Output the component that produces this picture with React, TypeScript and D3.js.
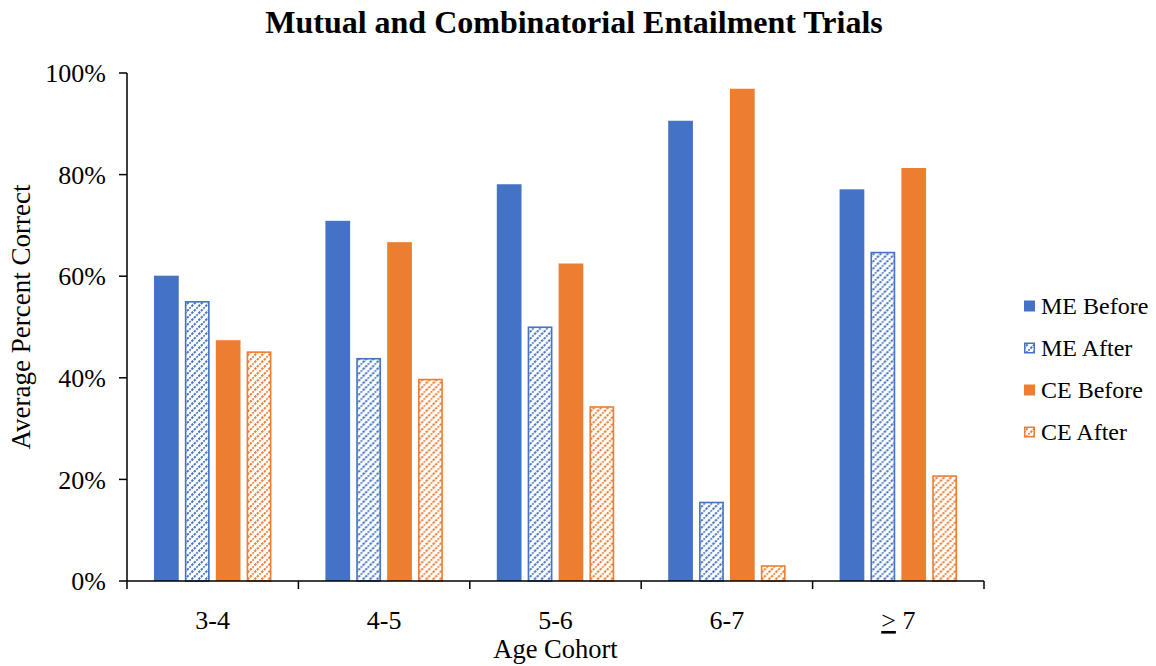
import React from "react";
import * as d3 from "d3";

const categories = ["3-4", "4-5", "5-6", "6-7", "\u2265 7"];
const seriesNames = ["ME Before", "ME After", "CE Before", "CE After"];
const meBefore = [0.601, 0.709, 0.781, 0.906, 0.771];
const meAfter = [0.551, 0.439, 0.501, 0.156, 0.648];
const ceBefore = [0.474, 0.667, 0.625, 0.969, 0.813];
const ceAfter = [0.452, 0.398, 0.344, 0.031, 0.208];
const yTicks = [0, 0.2, 0.4, 0.6, 0.8, 1.0];

const BLUE = "#4472C4";
const ORANGE = "#ED7D31";
const FONT = "'Liberation Serif', 'Times New Roman', serif";

const seriesValues = [meBefore, meAfter, ceBefore, ceAfter];
const seriesColor = [BLUE, BLUE, ORANGE, ORANGE];
const seriesHatched = [false, true, false, true];

export default function App() {
  const width = 1156;
  const height = 666;
  const left = 127;
  const right = 984;
  const top = 73;
  const bottom = 581;

  const x = d3.scaleBand<string>().domain(categories).range([left, right]).padding(0);
  const inner = d3
    .scaleBand<string>()
    .domain(seriesNames)
    .range([27, x.bandwidth() - 27])
    .paddingInner(0.2)
    .paddingOuter(0);
  const y = d3.scaleLinear().domain([0, 1]).range([bottom, top]);

  const fillFor = (i: number) =>
    seriesHatched[i] ? `url(#hatch-${i})` : seriesColor[i];

  const legendX = 1024;
  const legendY0 = 306;
  const legendStep = 42;

  return (
    <svg
      width={width}
      height={height}
      style={{ position: "absolute", left: 0, top: 0, background: "#fff" }}
      fontFamily={FONT}
    >
      <defs>
        {seriesNames.map((_, i) =>
          seriesHatched[i] ? (
            <pattern
              key={i}
              id={`hatch-${i}`}
              patternUnits="userSpaceOnUse"
              width={7}
              height={7}
            >
              <rect width={7} height={7} fill="#fff" />
              <path
                d="M-1,8 L8,-1 M-4,4 L4,-4 M3,11 L11,3"
                stroke={seriesColor[i]}
                strokeWidth={2}
                strokeDasharray="2.4 1.1"
              />
            </pattern>
          ) : null
        )}
      </defs>

      <rect width={width} height={height} fill="#fff" />

      {/* Title */}
      <text
        x={574}
        y={33}
        textAnchor="middle"
        fontSize={32}
        fontWeight="bold"
        fill="#000"
      >
        Mutual and Combinatorial Entailment Trials
      </text>

      {/* Bars */}
      {categories.map((c, ci) => (
        <g key={c} transform={`translate(${x(c)},0)`}>
          {seriesNames.map((s, si) => {
            const v = seriesValues[si][ci];
            const bx = inner(s)!;
            const bw = inner.bandwidth();
            const hatched = seriesHatched[si];
            return (
              <rect
                key={s}
                x={hatched ? bx + 0.75 : bx}
                y={y(v) + (hatched ? 0.75 : 0)}
                width={hatched ? bw - 1.5 : bw}
                height={bottom - y(v) - (hatched ? 0.75 : 0)}
                fill={fillFor(si)}
                stroke={hatched ? seriesColor[si] : "none"}
                strokeWidth={hatched ? 1.6 : 0}
              />
            );
          })}
        </g>
      ))}

      {/* Y axis */}
      <line x1={left} x2={left} y1={top} y2={bottom} stroke="#000" strokeWidth={1.5} />
      {yTicks.map((t) => (
        <g key={t}>
          <line x1={left - 8} x2={left} y1={y(t)} y2={y(t)} stroke="#000" strokeWidth={1.5} />
          <text
            x={left - 21}
            y={y(t)}
            dy="0.35em"
            textAnchor="end"
            fontSize={26}
            fill="#000"
          >
            {d3.format(".0%")(t)}
          </text>
        </g>
      ))}

      {/* X axis */}
      <line x1={left} x2={right} y1={bottom} y2={bottom} stroke="#000" strokeWidth={1.5} />
      {[...categories.map((c) => x(c)!), right].map((px, i) => (
        <line key={i} x1={px} x2={px} y1={bottom} y2={bottom + 8} stroke="#000" strokeWidth={1.5} />
      ))}
      {categories.map((c) => (
        <text
          key={c}
          x={x(c)! + x.bandwidth() / 2}
          y={629}
          textAnchor="middle"
          fontSize={26}
          fill="#000"
        >
          {c === "\u2265 7" ? (
            <>
              <tspan textDecoration="underline">{">"}</tspan>
              {" 7"}
            </>
          ) : (
            c
          )}
        </text>
      ))}

      {/* Axis titles */}
      <text x={left + (right - left) / 2} y={658} textAnchor="middle" fontSize={26.5} fill="#000">
        Age Cohort
      </text>
      <text
        transform={`translate(30,317) rotate(-90)`}
        textAnchor="middle"
        fontSize={27}
        fill="#000"
      >
        Average Percent Correct
      </text>

      {/* Legend */}
      {seriesNames.map((s, i) => {
        const cy = legendY0 + i * legendStep;
        const hatched = seriesHatched[i];
        return (
          <g key={s}>
            <rect
              x={legendX + (hatched ? 0.75 : 0)}
              y={cy - 5.5 + (hatched ? 0.75 : 0)}
              width={hatched ? 9.5 : 11}
              height={hatched ? 9.5 : 11}
              fill={fillFor(i)}
              stroke={hatched ? seriesColor[i] : "none"}
              strokeWidth={hatched ? 1.5 : 0}
            />
            <text x={legendX + 17} y={cy} dy="0.35em" fontSize={24} fill="#000">
              {s}
            </text>
          </g>
        );
      })}
    </svg>
  );
}
